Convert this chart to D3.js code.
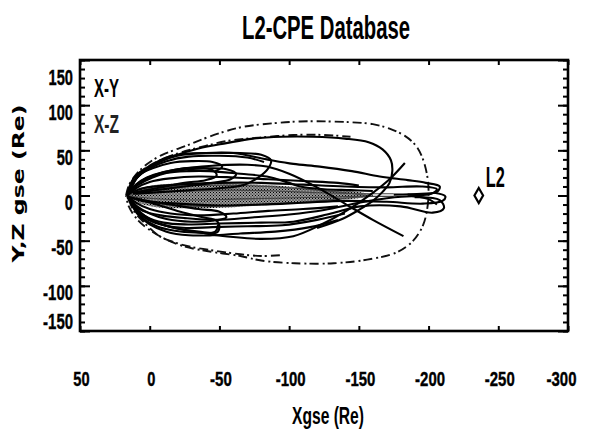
<!DOCTYPE html>
<html><head><meta charset="utf-8">
<script src="https://cdn.jsdelivr.net/npm/d3@7/dist/d3.min.js"></script>
<style>
html,body{margin:0;padding:0;background:#fff;}
svg{display:block;}
</style></head>
<body><svg id="c" width="590" height="434"></svg>
<script>
// ---------- data ----------
const titleText = "L2-CPE Database";
const xLabel = "Xgse (Re)";
const yLabel = "Y,Z gse (Re)";
const xTicks = [50, 0, -50, -100, -150, -200, -250, -300];
const yTicks = [150, 100, 50, 0, -50, -100, -150];
const seriesNames = ["X-Y", "X-Z"];
const l2Point = [-236, 0];
const l2Name = "L2";

// X-Y plane trajectories
const xy1 = [[16,1],[12,15],[5,26],[-3,35],[-12,42],[-25,46],[-45,47],[-65,47],[-80,45],[-87,39],[-85,30],[-78,20],[-68,12],[-50,8],[-30,6],[-10,4],[10,2]];
const xy2 = [[16,0],[11,16],[3,28],[-8,38],[-20,44],[-40,47],[-60,47],[-84,40],[-103,35],[-122,32],[-145,27],[-165,21],[-185,17],[-198,14],[-208,10],[-206,4],[-195,2],[-175,1]];
const xy3 = [[15,2],[8,14],[-2,22],[-20,29],[-45,33],[-70,34],[-84,32],[-100,24],[-120,9],[-141,-10],[-160,-27],[-182,-45]];
const xy4 = [[14,-4],[8,-18],[-2,-28],[-18,-36],[-40,-42],[-60,-46],[-80,-48],[-103,-45],[-122,-33],[-141,-17],[-160,3],[-172,18],[-183,36]];
const xy5 = [[16,-2],[10,-14],[2,-24],[-10,-30],[-25,-32],[-50,-31],[-80,-30],[-103,-29],[-130,-20],[-151,-12],[-180,-12],[-203,-19],[-211,-14],[-208,-5],[-190,-2]];
const xy6 = [[16,-1],[11,-12],[4,-22],[-5,-30],[-18,-36],[-35,-40],[-48,-41],[-50,-35],[-48,-28],[-38,-24],[-22,-18],[-5,-10],[10,-3]];
const xy7 = [[16,1],[11,10],[3,18],[-8,24],[-22,28],[-40,30],[-55,29],[-62,24],[-58,18],[-45,14],[-25,10],[-5,6],[12,2]];
const xy8 = [[16,1],[5,8],[-20,12],[-50,14],[-80,14],[-110,12],[-140,10],[-170,9],[-195,10],[-206,7],[-202,2],[-185,1]];
const xy9 = [[16,-1],[5,-6],[-20,-9],[-50,-11],[-80,-10],[-110,-8],[-140,-6],[-170,-7],[-196,-9],[-210,-6],[-212,-1],[-204,3]];
const xy10 = [[16,2],[8,12],[-2,20],[-12,25],[-28,27],[-43,27],[-65,24],[-84,21],[-100,14],[-108,10],[-125,7],[-144,6],[-160,5]];
const xy11 = [[16,3],[12,18],[5,28],[-5,36],[-18,44],[-35,52],[-55,58],[-74,63],[-95,65],[-117,65],[-140,63],[-157,59],[-167,51],[-173,39],[-174,27],[-172,14],[-167,4],[-160,-6],[-150,-16],[-138,-26],[-120,-36]];
const xy12 = [[15,-3],[9,-20],[0,-32],[-12,-40],[-28,-44],[-45,-44],[-65,-42],[-90,-40],[-115,-35],[-135,-27]];
const xy13 = [[15,2],[10,12],[2,20],[-10,26],[-25,30],[-35,31],[-45,28],[-48,22],[-40,17],[-25,14],[-5,8],[12,3]];
const xy14 = [[15,-2],[9,-12],[0,-20],[-12,-26],[-30,-29],[-45,-28],[-55,-24],[-50,-18],[-35,-15],[-15,-10],[5,-5],[14,-2]];
const xy15 = [[16,0],[10,-8],[0,-15],[-15,-20],[-35,-22],[-60,-20],[-85,-17],[-110,-15],[-135,-12]];
const xy16 = [[16,0],[10,8],[0,15],[-15,19],[-35,21],[-60,20],[-85,18],[-110,16],[-135,14],[-150,11]];
const xy17 = [[14,5],[8,22],[-2,30],[-15,36],[-30,38],[-45,37],[-52,32],[-47,27]];
const xy18 = [[13,-8],[5,-25],[-5,-34],[-18,-39],[-32,-41],[-47,-40],[-49,-32]];
const xy19 = [[16,-1],[12,-10],[5,-17],[-8,-22],[-25,-25],[-48,-27],[-75,-24],[-100,-21],[-125,-16],[-150,-8],[-170,-3],[-190,-1],[-200,-4],[-206,-10]];
const xy20 = [[15,3],[9,20],[0,30],[-12,38],[-28,43],[-50,44],[-70,42],[-82,37]];
const xy21 = [[15,-3],[10,-16],[1,-27],[-10,-33],[-26,-36],[-45,-35],[-70,-34],[-95,-33],[-120,-27],[-140,-20]];
const xyTracks = [xy1, xy2, xy3, xy4, xy5, xy6, xy7, xy8, xy9, xy10, xy11, xy12, xy13, xy14, xy15, xy16, xy17, xy18, xy19, xy20, xy21];

// X-Z plane trajectories
const xz1 = [[17,0],[15,11],[11,21],[5,31],[-1,38],[-9,45],[-17,50],[-26,55],[-34,60],[-50,69],[-67,76],[-89,80],[-108,82],[-127,82],[-145,81],[-160,79],[-172,74],[-183,66],[-191,55],[-196,40],[-199,22],[-200,5],[-199,-15],[-196,-33],[-189,-50],[-177,-63],[-156,-71],[-132,-75],[-104,-75],[-80,-72],[-65,-67],[-43,-62],[-24,-56],[-6,-44],[8,-28],[15,-12],[17,0]];
const xz2 = [[16,2],[12,17],[6,27],[-2,35],[-12,42],[-25,49],[-40,55],[-58,61],[-78,64],[-103,67],[-125,67],[-144,65]];
const xz3 = [[15,-5],[11,-18],[4,-30],[-7,-45],[-18,-52],[-30,-57],[-46,-61],[-65,-65],[-80,-67],[-95,-66]];
const xz4 = [[16,0],[8,5],[-10,9],[-35,11],[-65,11],[-95,9],[-120,6],[-140,3],[-155,0]];
const xz5 = [[16,0],[8,-5],[-10,-10],[-35,-12],[-65,-11],[-95,-9],[-120,-6],[-140,-3],[-155,-1]];
const xz6 = [[16,0],[0,3],[-30,5],[-60,6],[-90,5],[-120,3],[-150,2],[-175,2]];
const xz7 = [[16,0],[0,-3],[-30,-5],[-60,-4],[-90,-3],[-120,-2],[-150,-1],[-175,-1]];
const xzTracks = [xz4, xz5, xz6, xz7];
const xzOuter = [xz1, xz2, xz3];

// dense X-Z core envelope
const coreX = [16, 12, 5, -5, -20, -40, -60, -80, -100, -120, -135, -150, -160];
const coreTop = [2, 6, 9, 12, 13, 13, 13, 12, 10, 8, 6, 4, 1];
const coreBottom = [-2, -6, -10, -13, -14, -14, -13, -11, -9, -7, -5, -3, -1];

// ---------- drawing ----------
const svg = d3.select("#c");
const FONT = "'Liberation Sans', Arial, sans-serif";
const L = 80, R = 568, T = 60, B = 331;
const x = d3.scaleLinear().domain([50, -300]).range([L, R]);
const y = d3.scaleLinear().domain([-150, 150]).range([B, T]);

// width of a condensed label
const cw = (s, size) => s.split("").reduce((a, ch) => a + (ch === "-" ? 0.25 : 0.37) * size, 0);

const defs = svg.append("defs");
const pat = defs.append("pattern").attr("id", "stip").attr("width", 3).attr("height", 3)
  .attr("patternUnits", "userSpaceOnUse");
pat.append("rect").attr("width", 3).attr("height", 3).attr("fill", "#9a9a9a");
pat.append("rect").attr("x", 0).attr("y", 0).attr("width", 1).attr("height", 1).attr("fill", "#000");
pat.append("rect").attr("x", 1.5).attr("y", 1.5).attr("width", 1).attr("height", 1).attr("fill", "#000");
defs.append("clipPath").attr("id", "clip").append("rect")
  .attr("x", L).attr("y", T).attr("width", R - L).attr("height", B - T);

const plot = svg.append("g").attr("clip-path", "url(#clip)");

const coreData = coreX.map((v, i) => ({x: v, t: coreTop[i], b: coreBottom[i]}));
plot.append("path").datum(coreData)
  .attr("d", d3.area().x(d => x(d.x)).y0(d => y(d.b)).y1(d => y(d.t)).curve(d3.curveCatmullRom))
  .attr("fill", "url(#stip)");

const line = d3.line().x(d => x(d[0])).y(d => y(d[1])).curve(d3.curveCatmullRom.alpha(0.5));

plot.selectAll(".xz").data(xzTracks).join("path")
  .attr("d", line).attr("fill", "none").attr("stroke", "#444").attr("stroke-width", 1.1);

plot.selectAll(".xzo").data(xzOuter).join("path")
  .attr("d", line).attr("fill", "none").attr("stroke", "#111").attr("stroke-width", 1.9)
  .attr("stroke-dasharray", "9,3,2,4");

plot.selectAll(".xy").data(xyTracks).join("path")
  .attr("d", line).attr("fill", "none").attr("stroke", "#000").attr("stroke-width", 2.1);

// L2 marker
svg.append("path")
  .attr("d", d3.symbol().type(d3.symbolDiamond).size(65)())
  .attr("transform", `translate(${x(l2Point[0])},${y(l2Point[1])})`)
  .attr("fill", "#fff").attr("stroke", "#000").attr("stroke-width", 2.2);
svg.append("text")
  .attr("x", x(l2Point[0]) + 7).attr("y", y(l2Point[1]) - 9)
  .attr("font-family", FONT).attr("font-weight", "bold").attr("font-size", 29)
  .attr("textLength", 19).attr("lengthAdjust", "spacingAndGlyphs").text(l2Name);

// axes
function styleAxis(g) {
  g.select(".domain").remove();
  g.selectAll(".tick line").attr("stroke", "#000").attr("stroke-width", 2);
}
const y10 = d3.range(-150, 151, 10);
svg.append("g").attr("transform", `translate(${L},0)`)
  .call(d3.axisLeft(y).tickValues(y10).tickSize(-5).tickFormat(""))
  .call(styleAxis);
svg.append("g").attr("transform", `translate(${R},0)`)
  .call(d3.axisRight(y).tickValues(y10).tickSize(-5).tickFormat(""))
  .call(styleAxis);
const gl = svg.append("g").attr("transform", `translate(${L},0)`)
  .call(d3.axisLeft(y).tickValues(yTicks).tickSize(-10).tickPadding(7).tickFormat(d => String(d)))
  .call(styleAxis);
gl.selectAll(".tick text")
  .attr("font-family", FONT).attr("font-weight", "bold").attr("font-size", 22).attr("fill", "#000")
  .attr("stroke", "#000").attr("stroke-width", 0.4)
  .attr("dy", d => d === 150 ? "24px" : d === -150 ? "-3px" : "14px")
  .attr("textLength", d => cw(String(d), 22)).attr("lengthAdjust", "spacingAndGlyphs");
svg.append("g").attr("transform", `translate(${R},0)`)
  .call(d3.axisRight(y).tickValues(yTicks).tickSize(-10).tickFormat(""))
  .call(styleAxis);
svg.append("g").attr("transform", `translate(0,${T})`)
  .call(d3.axisTop(x).tickValues(xTicks).tickSize(-5).tickFormat(""))
  .call(styleAxis);
const gb = svg.append("g").attr("transform", `translate(0,${B})`)
  .call(d3.axisBottom(x).tickValues(xTicks).tickSize(-5).tickPadding(40).tickFormat(d => String(d)))
  .call(styleAxis);
gb.selectAll(".tick text")
  .attr("font-family", FONT).attr("font-weight", "bold").attr("font-size", 21).attr("fill", "#000")
  .attr("stroke", "#000").attr("stroke-width", 0.4)
  .attr("dx", d => d === -300 ? "-7px" : "1px")
  .attr("textLength", d => cw(String(d), 22)).attr("lengthAdjust", "spacingAndGlyphs");

// frame
svg.append("rect").attr("x", L).attr("y", T).attr("width", R - L).attr("height", B - T)
  .attr("fill", "none").attr("stroke", "#000").attr("stroke-width", 2.6);

// legend
seriesNames.forEach((s, i) => {
  svg.append("text").attr("x", 94).attr("y", 97 + i * 36)
    .attr("font-family", FONT).attr("font-weight", "bold").attr("font-size", 25)
    .attr("textLength", 25).attr("lengthAdjust", "spacingAndGlyphs")
    .attr("fill", i === 0 ? "#000" : "#222").text(s);
});

// titles
svg.append("text").attr("x", (L + R) / 2 + 2).attr("y", 39)
  .attr("text-anchor", "middle").attr("font-family", FONT).attr("font-weight", "bold").attr("font-size", 34)
  .attr("textLength", 168).attr("lengthAdjust", "spacingAndGlyphs").text(titleText);
svg.append("text").attr("x", 328).attr("y", 424)
  .attr("text-anchor", "middle").attr("font-family", FONT).attr("font-weight", "bold").attr("font-size", 23)
  .attr("textLength", 72).attr("lengthAdjust", "spacingAndGlyphs").text(xLabel);
svg.append("text")
  .attr("transform", `translate(24,${(T + B) / 2 - 12}) rotate(-90)`)
  .attr("text-anchor", "middle")
  .attr("font-family", "'DejaVu Sans', sans-serif").attr("font-weight", "bold").attr("font-size", 15)
  .attr("textLength", 158).attr("lengthAdjust", "spacingAndGlyphs").text(yLabel);
</script></body></html>
